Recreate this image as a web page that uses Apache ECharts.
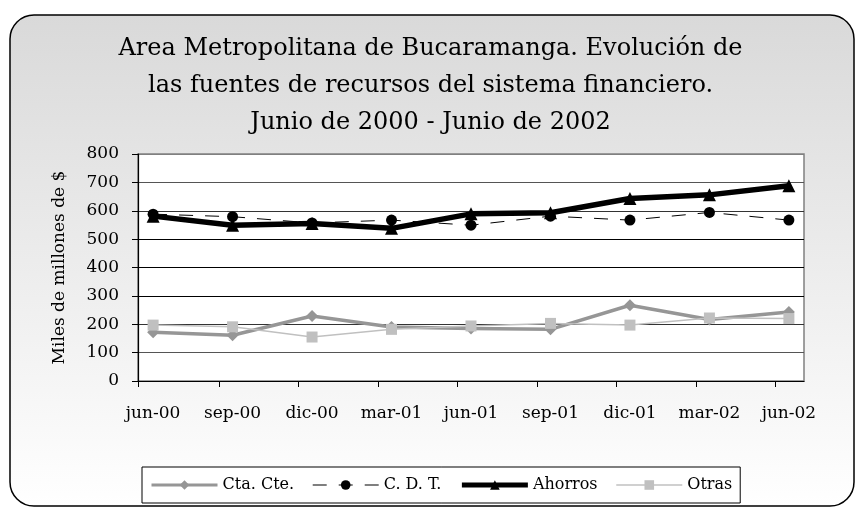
<!DOCTYPE html>
<html>
<head>
<meta charset="utf-8">
<script src="https://cdn.jsdelivr.net/npm/echarts@6/dist/echarts.min.js"></script>
<style>
  html, body { margin: 0; padding: 0; background: #fff; }
  #chart { width: 861px; height: 509px; }
</style>
</head>
<body>
<div id="chart"></div>
<script>
var categories = ['jun-00', 'sep-00', 'dic-00', 'mar-01', 'jun-01', 'sep-01', 'dic-01', 'mar-02', 'jun-02'];
var ctaCte  = [172, 161, 229, 190, 185, 182, 267, 217, 243];
var cdt     = [588, 579, 557, 567, 549, 581, 567, 594, 567];
var ahorros = [581, 549, 555, 538, 589, 593, 643, 656, 688];
var otras   = [197, 191, 155, 182, 194, 203, 197, 222, 220];
var yTicks  = [0, 100, 200, 300, 400, 500, 600, 700, 800];

var serif = 'DejaVu Serif';

function pairs(arr) {
  return arr.map(function (v, i) { return [i, v]; });
}

var labelPos = categories.map(function (c, i) { return i; });
// tick marks sit between categories, a bit left of each point
var tickPos = [-0.19];
for (var i = 0; i < categories.length - 1; i++) tickPos.push(i + 0.83);

var chart = echarts.init(document.getElementById('chart'));
var option = {
  animation: false,
  graphic: [
    {
      type: 'rect',
      z: -10,
      shape: { x: 10, y: 15, width: 844, height: 491, r: 24 },
      style: {
        stroke: '#000',
        lineWidth: 1.5,
        fill: new echarts.graphic.LinearGradient(0, 0, 0, 1, [
          { offset: 0, color: '#d9d9d9' },
          { offset: 1, color: '#ffffff' }
        ])
      }
    }
  ],
  title: {
    text: 'Area Metropolitana de Bucaramanga. Evolución de\nlas fuentes de recursos del sistema financiero.\nJunio de 2000 - Junio de 2002',
    left: 'center',
    top: 25,
    textStyle: {
      fontFamily: serif,
      fontSize: 24,
      fontWeight: 'normal',
      color: '#000',
      lineHeight: 37
    }
  },
  legend: {
    left: 142,
    top: 467,
    padding: [10, 8],
    itemGap: 18,
    itemWidth: 66,
    itemHeight: 12,
    backgroundColor: '#fff',
    borderColor: '#000',
    borderWidth: 1,
    textStyle: { fontFamily: serif, fontSize: 16, color: '#000' },
    data: [
      { name: 'Cta. Cte.', lineStyle: { width: 3 } },
      { name: 'C. D. T.', lineStyle: { width: 1.2 } },
      { name: 'Ahorros', lineStyle: { width: 5 } },
      { name: 'Otras', lineStyle: { width: 1.5 } }
    ]
  },
  grid: {
    left: 138,
    right: 57,
    top: 154,
    bottom: 128,
    show: true,
    backgroundColor: '#fff',
    borderColor: '#808080',
    borderWidth: 1.5
  },
  xAxis: {
    type: 'value',
    min: -0.19,
    max: 8.19,
    splitLine: { show: false },
    axisLine: { show: true, onZero: false, lineStyle: { color: '#000', width: 1.2 } },
    axisTick: {
      show: true,
      customValues: tickPos,
      length: 6,
      lineStyle: { color: '#000' }
    },
    axisLabel: {
      customValues: labelPos,
      margin: 24,
      fontFamily: serif,
      fontSize: 17,
      color: '#000',
      formatter: function (v) { return categories[Math.round(v)]; }
    }
  },
  yAxis: {
    type: 'value',
    min: 0,
    max: 800,
    interval: 100,
    name: 'Miles de millones de $',
    nameLocation: 'middle',
    nameRotate: 90,
    nameGap: 70,
    nameTextStyle: { fontFamily: serif, fontSize: 17, color: '#000' },
    axisLine: { show: true, onZero: false, lineStyle: { color: '#000', width: 1.2 } },
    axisTick: { show: true, length: 6, lineStyle: { color: '#000' } },
    axisLabel: {
      margin: 19,
      fontFamily: serif,
      fontSize: 17,
      color: '#000',
      formatter: function (v) { return yTicks.indexOf(v) >= 0 ? String(v) : ''; }
    },
    splitLine: {
      show: true,
      lineStyle: {
        color: ['#000', '#555', '#333', '#000', '#000', '#000', '#333', '#555', '#808080'],
        width: 1
      }
    }
  },
  series: [
    {
      name: 'Cta. Cte.',
      type: 'line',
      data: pairs(ctaCte),
      symbol: 'diamond',
      symbolSize: 12,
      itemStyle: { color: '#969696' },
      lineStyle: { color: '#969696', width: 3.5 }
    },
    {
      name: 'C. D. T.',
      type: 'line',
      data: pairs(cdt),
      symbol: 'circle',
      symbolSize: 11,
      itemStyle: { color: '#000' },
      lineStyle: { color: '#000', width: 1, type: [14, 12] }
    },
    {
      name: 'Ahorros',
      type: 'line',
      data: pairs(ahorros),
      symbol: 'triangle',
      symbolSize: 13,
      itemStyle: { color: '#000' },
      lineStyle: { color: '#000', width: 5.5 }
    },
    {
      name: 'Otras',
      type: 'line',
      data: pairs(otras),
      symbol: 'rect',
      symbolSize: 11,
      itemStyle: { color: '#c0c0c0' },
      lineStyle: { color: '#c0c0c0', width: 1.5 }
    }
  ]
};
chart.setOption(option);
</script>
</body>
</html>
